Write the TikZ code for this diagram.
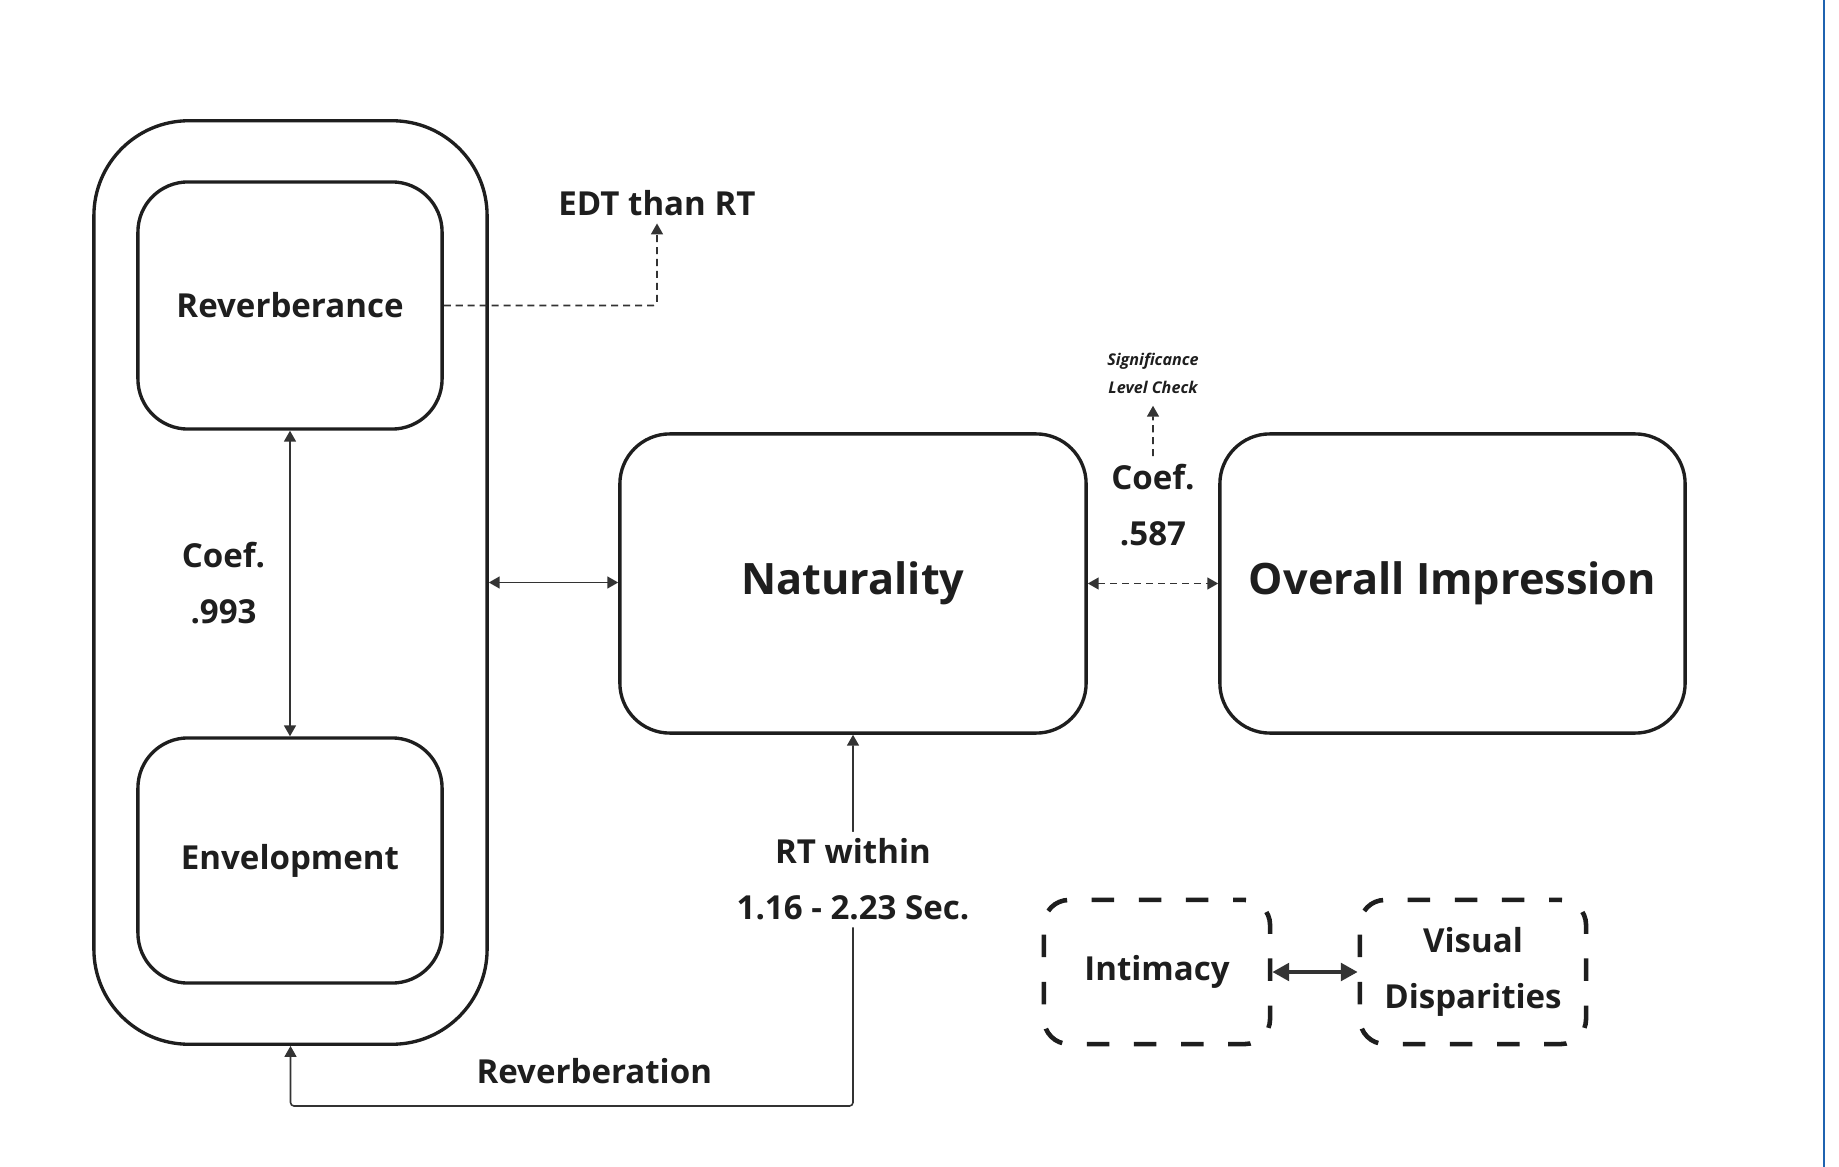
\documentclass[tikz,border=0pt]{standalone}
\usepackage{fontspec}
\setmainfont{Open Sans}
\usetikzlibrary{arrows.meta,positioning}

\definecolor{ink}{HTML}{1E1E1E}
\definecolor{wire}{HTML}{333333}
\definecolor{edge}{HTML}{1F63B0}

\begin{document}
\begin{tikzpicture}[
  x=0.01cm, y=-0.01cm,
  >={Triangle[length=3.1pt,width=3.4pt]},
  font=\fontsize{9.4}{15.9}\selectfont\bfseries, text=ink,
  box/.style={rectangle, rounded corners=#1, draw=ink, line width=0.95pt, inner sep=0pt, align=center},
  dbox/.style={box=#1, line width=1.3pt, dash pattern=on 6.4pt off 7pt, dash phase=3pt},
  big/.style={font=\fontsize{12.3}{16}\selectfont\bfseries},
  lab/.style={align=center, inner sep=2pt},
  sml/.style={align=center, font=\fontsize{4.6}{8}\selectfont\bfseries\itshape},
  arr/.style={->, line width=0.45pt, draw=wire},
  darr/.style={arr, dash pattern=on 2pt off 1.4pt},
  barr/.style={<->, >={Triangle[length=4.8pt,width=5pt]}, line width=1.1pt, draw=wire},
]
% ---------- canvas ----------
\path[use as bounding box, fill=white] (0,0) rectangle (1839,1167);
\draw[edge, line width=0.6pt] (1824,0) -- (1824,1167);

% ---------- left group ----------
\node[box=0.95cm, minimum width=3.93cm, minimum height=9.23cm] (grp) at (290.5,582.5) {};
\node[box=0.5cm, minimum width=3.04cm, minimum height=2.47cm] (rev) at (290,305.5) {Reverberance};
\node[box=0.5cm, minimum width=3.04cm, minimum height=2.45cm] (env) at (290,860.5) {Envelopment};

% ---------- middle and right ----------
\node[box=0.5cm, big, minimum width=4.66cm, minimum height=2.99cm] (nat) at (853,583.5) {Naturality};
\node[box=0.5cm, big, minimum width=4.65cm, minimum height=2.99cm] (ovr) at (1452.5,583.5) {Overall Impression};
\node[dbox=0.25cm, minimum width=2.26cm, minimum height=1.44cm] (inti) at (1157,972) {Intimacy};
\node[dbox=0.25cm, minimum width=2.26cm, minimum height=1.44cm] (vis) at (1473,972) {Visual\\Disparities};

% ---------- free labels ----------
\node[lab] (edt) at (657,203) {EDT than RT};
\node[sml] (sig) at (1153,373) {Significance\\Level Check};
\coordinate (turn) at (853,1106);

% ---------- arrows ----------
\draw[arr,<->] (rev.south) -- node[lab,left=0.17cm] {Coef.\\.993} (env.north);
\draw[arr,<->] (grp.east) -- (grp.east -| nat.west);
\draw[darr,<->] (nat.east) -- node[lab,above=0.3cm] (c2) {Coef.\\.587} (ovr.west);
\draw[darr] (c2.north) -- (sig.south);
\draw[darr, rounded corners=1pt] (rev.east) -| (edt.south);
\draw[arr,<->, rounded corners=1pt] (nat.south) -- node[lab, fill=white, pos=.39] {RT within\\1.16 - 2.23 Sec.} (turn) -| node[lab, above=0.14cm, pos=.23] {Reverberation} (grp.south);
\draw[barr] (inti) -- (vis);
\end{tikzpicture}
\end{document}
